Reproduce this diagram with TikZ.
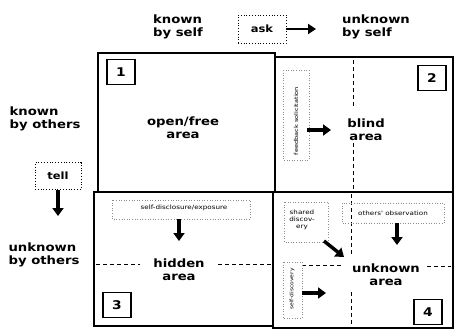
\documentclass[tikz,border=0pt]{standalone}
\usepackage{fontspec}
\setmainfont{DejaVu Sans}
\newfontfamily\labf[FakeStretch=1.15]{DejaVu Sans Bold}
\newfontfamily\tinyf[FakeStretch=1.2]{DejaVu Sans}
\usetikzlibrary{arrows.meta}
\tikzset{
  lbl/.style={font=\labf\fontsize{11.5}{13}\selectfont, align=center, inner sep=0pt},
  lbll/.style={font=\labf\fontsize{11.5}{13}\selectfont, align=left, inner sep=0pt},
  tinytxt/.style={font=\tinyf\fontsize{6}{7}\selectfont, align=center, inner sep=1pt},
  numbox/.style={draw, line width=1.6pt, minimum width=28pt, minimum height=25pt, inner sep=0pt, font=\labf\fontsize{12}{12}\selectfont},
  dotbox/.style={draw=black!45, dotted, line width=0.6pt},
  frame/.style={line width=2.6pt},
  bigarrow/.style={line width=3.5pt, -{Triangle[length=8pt, width=11pt]}},
  midarrow/.style={line width=2.5pt, -{Triangle[length=8pt, width=10pt]}},
  dashline/.style={line width=1pt, dash pattern=on 4pt off 3pt}
}
\begin{document}
\begin{tikzpicture}[x=1pt,y=-1pt]
\useasboundingbox (0,0) rectangle (455,333);
% quadrants
\draw[frame] (98,53) rectangle (275,192);
\draw[frame] (275,57) rectangle (453,192);
\draw[frame] (94,192) rectangle (273,326);
\draw[frame] (273,192) rectangle (453,328);
% dashed guides
\draw[dashline] (353,60) -- (353,108);
\draw[dashline] (353,143) -- (353,190);
\draw[dashline] (351,194) -- (351,255);
\draw[dashline] (351,292) -- (351,326);
\draw[dashline] (96,264) -- (140,264);
\draw[dashline] (218,264) -- (272,264);
\draw[dashline] (302,265) -- (342,265);
\draw[dashline] (427,266) -- (451,266);
% headers
\node[lbll] (kself) at (178,27) {known\\by self};
\node[draw, dotted, line width=0.8pt, minimum width=48pt, minimum height=28pt, font=\labf\fontsize{10}{10}\selectfont] (ask) at (262,29) {ask};
\coordinate (askend) at (316,29);
\draw[midarrow] (ask.east) -- (askend);
\node[lbll] (uself) at (376,27) {unknown\\by self};
\node[lbll] (kothers) at (45,119) {known\\by others};
\node[draw, dotted, line width=0.8pt, minimum width=46pt, minimum height=27pt, font=\labf\fontsize{10}{10}\selectfont] (tell) at (58,176) {tell};
\coordinate (tellend) at (58,216);
\draw[bigarrow] (tell.south) -- (tellend);
\node[lbll] (uothers) at (44,255) {unknown\\by others};
% number boxes
\node[numbox] (n1) at (121,72) {1};
\node[numbox] (n2) at (432,78) {2};
\node[numbox] (n3) at (117,305) {3};
\node[numbox] (n4) at (428,312) {4};
% area labels
\node[lbl] (open) at (183,128) {open/free\\area};
\node[lbl] (blind) at (366,130) {blind\\area};
\node[lbl] (hidden) at (179,270) {hidden\\area};
\node[lbl] (unknown) at (386,275) {unknown\\area};
% quadrant 2
\node[tinytxt, font=\tinyf\fontsize{5.5}{6}\selectfont, rotate=90] (fb) at (296,121) {feedback solicitation};
\draw[dotbox] (283,70) rectangle (309,160);
\coordinate (fbend) at (331,130);
\draw[bigarrow] (307,130) -- (fbend);
% quadrant 3
\node[tinytxt] (sd) at (184,208) {self-disclosure/exposure};
\draw[dotbox] (112,200) rectangle (250,219);
\coordinate (sdend) at (179,241);
\draw[bigarrow] (179,219) -- (sdend);
% quadrant 4
\node[tinytxt] (shared) at (302,220) {shared\\discov-\\ery};
\draw[dotbox] (284,202) rectangle (328,242);
\coordinate (shend) at (344,257);
\draw[bigarrow] (324,241) -- (shend);
\node[tinytxt] (obs) at (393,213) {others' observation};
\draw[dotbox] (342,203) rectangle (444,223);
\coordinate (obsend) at (397,245);
\draw[bigarrow] (397,223) -- (obsend);
\node[tinytxt, font=\tinyf\fontsize{5}{6}\selectfont, rotate=90] (sdisc) at (292,289) {self-discovery};
\draw[dotbox] (283,262) rectangle (302,318);
\coordinate (sdiscend) at (326,293);
\draw[bigarrow] (302,293) -- (sdiscend);
\end{tikzpicture}
\end{document}
